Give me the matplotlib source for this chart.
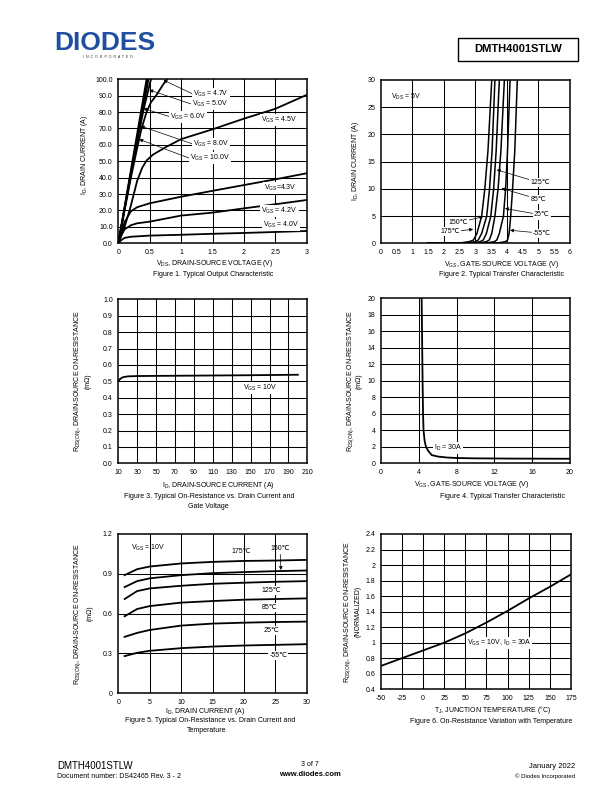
import numpy as np
import matplotlib
matplotlib.use("Agg")
import matplotlib.pyplot as plt
from matplotlib.patches import Rectangle

plt.rcParams['font.family'] = ['Liberation Sans', 'DejaVu Sans']
plt.rcParams['mathtext.fontset'] = 'custom'
plt.rcParams['mathtext.rm'] = 'Liberation Sans'
plt.rcParams['mathtext.it'] = 'Liberation Sans'

W, H = 612, 792

################################
#### data
################################

# fig 1: output characteristic, Vds (V) -> Id (A)
vds_10v = [0, 0.45]; id_10v = [0, 100]
vds_8v = [0, 0.465]; id_8v = [0, 100]
vds_6v = [0, 0.48]; id_6v = [0, 100]
vds_5v = [0, 0.1, 0.2, 0.3, 0.4, 0.5, 0.52]; id_5v = [0, 21, 42, 62, 81, 97, 100]
vds_47v = [0, 0.1, 0.2, 0.3, 0.37, 0.45, 0.52, 0.61, 0.7, 0.77]
id_47v = [0, 20, 40, 58, 70, 80, 86, 90.5, 96, 100]
vds_45v = [0, 0.1, 0.19, 0.3, 0.38, 0.45, 0.55, 0.75, 1, 1.5, 2, 2.5, 3]
id_45v = [0, 10, 21.5, 38, 46, 50.5, 54, 58.5, 63.5, 69.5, 76, 82, 90.5]
vds_43v = [0, 0.05, 0.1, 0.2, 0.3, 0.5, 1, 1.5, 2, 2.5, 3]
id_43v = [0, 6, 13, 19.5, 22, 24.4, 28.4, 32, 35.5, 39, 42.7]
vds_42v = [0, 0.05, 0.1, 0.2, 0.3, 0.5, 1, 1.5, 2, 2.5, 3]
id_42v = [0, 5, 8.5, 11, 12.2, 13.2, 16.9, 18.7, 21.3, 23.8, 26.4]
vds_40v = [0, 0.05, 0.1, 0.2, 0.5, 1, 1.5, 2, 2.5, 3]
id_40v = [0, 2, 3.3, 4.0, 4.7, 5.2, 5.8, 6.3, 6.9, 7.5]

# fig 2: transfer characteristic, Vgs (V) -> Id (A) per temperature
id_tr = [0, 0.05, 0.3, 0.6, 1.8, 5, 10, 17, 30]
vgs_175 = [1.5, 2.5, 2.8, 2.94, 3.05, 3.2, 3.3, 3.4, 3.52]
vgs_150 = [1.5, 2.7, 3.0, 3.09, 3.2, 3.36, 3.45, 3.53, 3.62]
vgs_125 = [1.5, 2.9, 3.15, 3.25, 3.35, 3.49, 3.58, 3.66, 3.76]
vgs_85 = [1.5, 3.1, 3.35, 3.44, 3.52, 3.62, 3.72, 3.81, 3.92]
vgs_25 = [1.5, 3.35, 3.6, 3.68, 3.76, 3.89, 3.96, 4.02, 4.10]
vgs_m55 = [1.5, 3.7, 3.95, 4.02, 4.07, 4.12, 4.18, 4.25, 4.33]

# fig 3: Rds(on) vs Id at Vgs=10V
id_f3 = [10, 12, 15, 20, 30, 50, 100, 150, 200]
rds_f3 = [0.50, 0.515, 0.525, 0.53, 0.532, 0.533, 0.535, 0.537, 0.54]

# fig 4: Rds(on) vs Vgs at Id=30A
vgs_f4 = [4.3, 4.35, 4.4, 4.45, 4.5, 4.62, 4.76, 5.0, 5.36, 6, 7, 8, 10, 14, 20]
rds_f4 = [20, 15, 10, 6, 4, 2.7, 2.0, 1.5, 1.0, 0.82, 0.7, 0.64, 0.6, 0.57, 0.55]

# fig 5: Rds(on) vs Id per temperature
id_f5 = [1, 3, 5, 10, 15, 20, 25, 30]
rds_m55 = [0.28, 0.305, 0.32, 0.34, 0.352, 0.36, 0.365, 0.37]
rds_25 = [0.425, 0.455, 0.477, 0.51, 0.525, 0.532, 0.537, 0.54]
rds_85 = [0.58, 0.635, 0.657, 0.683, 0.695, 0.705, 0.71, 0.715]
rds_125 = [0.71, 0.77, 0.79, 0.81, 0.825, 0.833, 0.84, 0.845]
rds_150 = [0.80, 0.845, 0.866, 0.89, 0.905, 0.913, 0.92, 0.925]
rds_175 = [0.89, 0.935, 0.955, 0.978, 0.99, 0.997, 1.0, 1.005]

# fig 6: normalized Rds(on) vs Tj
tj = [-50, -25, 0, 25, 50, 75, 100, 125, 150, 175]
rds_norm = [0.70, 0.80, 0.90, 1.0, 1.12, 1.26, 1.41, 1.57, 1.72, 1.88]


################################
#### helpers
################################

fig = plt.figure(figsize=(6.12, 7.92), dpi=100)

def px_ax(l, t, r, b):
    return fig.add_axes([l / W, 1 - b / H, (r - l) / W, (b - t) / H])

def ftext(x, y, s, **kw):
    kw.setdefault('fontsize', 5)
    kw.setdefault('ha', 'center')
    kw.setdefault('va', 'center')
    fig.text(x / W, 1 - y / H, s, **kw)

def style(ax, xlim, ylim, xt, yt, xg, yg, xfmt, yfmt):
    ax.set_xlim(xlim); ax.set_ylim(ylim)
    ax.set_xticks(xt); ax.set_yticks(yt)
    ax.set_xticklabels([xfmt(v) for v in xt])
    ax.set_yticklabels([yfmt(v) for v in yt])
    ax.tick_params(which='both', length=0, labelsize=5, pad=4)
    # grid lines (the datasheet grid is not always on the label ticks)
    for v in xg:
        ax.axvline(v, color='k', lw=0.75, zorder=1)
    for v in yg:
        ax.axhline(v, color='k', lw=0.75, zorder=1)
    for s in ax.spines.values():
        s.set_linewidth(1.1)
        s.set_zorder(5)

def g(v):
    return '%g' % v

wbox = dict(boxstyle='square,pad=0.15', fc='white', ec='none')
arr = dict(arrowstyle='-|>', lw=0.5, color='k', mutation_scale=5, shrinkA=0, shrinkB=0)
curve = dict(color='k', lw=1.3, zorder=3)


################################
#### figure 1
################################

ax1 = px_ax(118.3, 79.3, 306.7, 243.3)
for xs, ys in [(vds_10v, id_10v), (vds_8v, id_8v), (vds_6v, id_6v), (vds_5v, id_5v),
               (vds_47v, id_47v), (vds_45v, id_45v), (vds_43v, id_43v),
               (vds_42v, id_42v), (vds_40v, id_40v)]:
    ax1.plot(xs, ys, **curve)
style(ax1, (0, 3), (0, 100), np.arange(0, 3.01, 0.5), np.arange(0, 101, 10),
      np.arange(0.5, 3, 0.5), np.arange(10, 100, 10), g, lambda v: '%.1f' % v)

f1_arrows = [(r'V$_{\mathrm{GS}}$ = 4.7V', (1.19, 91.0), (0.72, 99.5)),
             (r'V$_{\mathrm{GS}}$ = 5.0V', (1.17, 84.8), (0.494, 93.5)),
             (r'V$_{\mathrm{GS}}$ = 6.0V', (0.82, 77.2), (0.398, 82.3)),
             (r'V$_{\mathrm{GS}}$ = 8.0V', (1.19, 60.5), (0.357, 71.5)),
             (r'V$_{\mathrm{GS}}$ = 10.0V', (1.14, 51.8), (0.334, 63.4))]
for s, xyt, xy in f1_arrows:
    ax1.annotate(s, xy=xy, xytext=xyt, fontsize=5, ha='left', va='center', zorder=4,
                 bbox=wbox, arrowprops=dict(arr, relpos=(0, 0.5)))
for s, xy in [(r'V$_{\mathrm{GS}}$ = 4.5V', (2.28, 75.1)),
              (r'V$_{\mathrm{GS}}$=4.3V', (2.32, 33.7)),
              (r'V$_{\mathrm{GS}}$ = 4.2V', (2.28, 19.7)),
              (r'V$_{\mathrm{GS}}$ = 4.0V', (2.30, 11.2))]:
    ax1.text(xy[0], xy[1], s, fontsize=5, ha='left', va='center', bbox=wbox, zorder=4)

ftext(85, 155, r'I$_{\mathrm{D}}$, DRAIN CURRENT (A)', rotation=90)
ftext(215, 264, r'V$_{\mathrm{DS}}$, DRAIN-SOURCE VOLTAGE (V)')
ftext(213.5, 274, 'Figure 1. Typical Output Characteristic')


################################
#### figure 2
################################

ax2 = px_ax(380.7, 80, 570, 243.3)
for vg in [vgs_175, vgs_150, vgs_125, vgs_85, vgs_25, vgs_m55]:
    ax2.plot(vg, id_tr, color='k', lw=1.1, zorder=3)
style(ax2, (0, 6), (0, 30), np.arange(0, 6.01, 0.5), np.arange(0, 31, 5),
      np.arange(1, 6, 1), np.arange(5, 30, 5), g, g)

ax2.text(0.82, 26.9, r'V$_{\mathrm{DS}}$ = 5V', fontsize=5, ha='center', va='center')
f2_arrows = [('125℃', (5.05, 11.1), (3.68, 13.5)),
             ('85℃', (4.99, 8.1), (3.83, 10.1)),
             ('25℃', (5.10, 5.2), (3.94, 6.4)),
             ('-55℃', (5.10, 1.85), (4.10, 2.4)),
             ('150℃', (2.46, 3.8), (3.25, 4.9)),
             ('175℃', (2.20, 2.1), (2.93, 2.57))]
for s, xyt, xy in f2_arrows:
    ax2.annotate(s, xy=xy, xytext=xyt, fontsize=5, ha='center', va='center', zorder=4,
                 bbox=wbox, arrowprops=arr)

ftext(355, 161, r'I$_{\mathrm{D}}$, DRAIN CURRENT (A)', rotation=90)
ftext(501.7, 265, r'V$_{\mathrm{GS}}$, GATE-SOURCE VOLTAGE (V)')
ftext(502, 274, 'Figure 2. Typical Transfer Characteristic')


################################
#### figure 3
################################

ax3 = px_ax(118.3, 299.3, 307.3, 463.3)
ax3.plot(id_f3, rds_f3, **curve)
style(ax3, (10, 210), (0, 1.0), np.arange(10, 211, 20), np.round(np.arange(0, 1.01, 0.1), 1),
      np.arange(30, 210, 20), np.arange(0.1, 1.0, 0.1), g, lambda v: '%.1f' % v)
ax3.text(160, 0.457, r'V$_{\mathrm{GS}}$ = 10V', fontsize=5, ha='center', va='center',
         bbox=wbox, zorder=4)

ftext(78, 381, r'R$_{\mathrm{DS(ON)}}$, DRAIN-SOURCE ON-RESISTANCE', rotation=90)
ftext(88, 381, '(mΩ)', rotation=90)
ftext(218, 485.5, r'I$_{\mathrm{D}}$, DRAIN-SOURCE CURRENT (A)')
ftext(209, 496, 'Figure 3. Typical On-Resistance vs. Drain Current and')
ftext(208.5, 506.5, 'Gate Voltage')


################################
#### figure 4
################################

ax4 = px_ax(381, 298.3, 570, 463.3)
ax4.plot(vgs_f4, rds_f4, **curve)
style(ax4, (0, 20), (0, 20), np.arange(0, 21, 4), np.arange(0, 21, 2),
      np.arange(4, 20, 4), np.arange(2, 20, 2), g, g)
ax4.text(7.1, 1.82, r'I$_{\mathrm{D}}$ = 30A', fontsize=5, ha='center', va='center',
         bbox=wbox, zorder=4)

ftext(351, 381, r'R$_{\mathrm{DS(ON)}}$, DRAIN-SOURCE ON-RESISTANCE', rotation=90)
ftext(359.5, 381, '(mΩ)', rotation=90)
ftext(471.7, 484, r'V$_{\mathrm{GS}}$, GATE-SOURCE VOLTAGE (V)')
ftext(502, 496, 'Figure 4. Typical Transfer Characteristic')


################################
#### figure 5
################################

ax5 = px_ax(118.3, 534, 306.7, 693.3)
for r in [rds_m55, rds_25, rds_85, rds_125, rds_150, rds_175]:
    ax5.plot(id_f5, r, **curve)
style(ax5, (0, 30), (0, 1.2), np.arange(0, 31, 5), np.round(np.arange(0, 1.21, 0.3), 1),
      np.arange(5, 30, 5), np.round(np.arange(0.3, 1.2, 0.3), 1), g, g)

ax5.text(4.78, 1.097, r'V$_{\mathrm{GS}}$ = 10V', fontsize=5, ha='center', va='center')
ax5.text(19.65, 1.067, '175℃', fontsize=5, ha='center', va='center')
ax5.annotate('150℃', xy=(25.9, 0.929), xytext=(25.75, 1.094), fontsize=5, ha='center',
             va='center', arrowprops=arr, zorder=4)
for s, xy in [('125℃', (24.43, 0.773)), ('85℃', (24.16, 0.645)),
              ('25℃', (24.47, 0.475)), ('-55℃', (25.48, 0.288))]:
    ax5.text(xy[0], xy[1], s, fontsize=5, ha='center', va='center', bbox=wbox, zorder=4)

ftext(78, 613.6, r'R$_{\mathrm{DS(ON)}}$, DRAIN-SOURCE ON-RESISTANCE', rotation=90)
ftext(90, 613.6, '(mΩ)', rotation=90)
ftext(205, 711.5, r'I$_{\mathrm{D}}$, DRAIN CURRENT (A)')
ftext(210.5, 720, 'Figure 5. Typical On-Resistance vs. Drain Current and')
ftext(207, 731, 'Temperature')


################################
#### figure 6
################################

ax6 = px_ax(380.7, 534, 571, 689.3)
ax6.plot(tj, rds_norm, **curve)
style(ax6, (-50, 175), (0.4, 2.4), np.arange(-50, 176, 25), np.round(np.arange(0.4, 2.41, 0.2), 1),
      np.arange(-25, 175, 25), np.round(np.arange(0.6, 2.4, 0.2), 1), g, g)
ax6.text(89.9, 0.992, r'V$_{\mathrm{GS}}$ = 10V, I$_{\mathrm{D}}$ = 30A', fontsize=5,
         ha='center', va='center', bbox=wbox, zorder=4)

ftext(348, 611.6, r'R$_{\mathrm{DS(ON)}}$, DRAIN-SOURCE ON-RESISTANCE', rotation=90)
ftext(358, 611.6, '(NORMALIZED)', rotation=90)
ftext(493, 710.5, r'T$_{\mathrm{J}}$, JUNCTION TEMPERATURE (°C)')
ftext(491.5, 721.5, 'Figure 6. On-Resistance Variation with Temperature')


################################
#### page header / footer
################################

ftext(54, 43, 'DIODES', fontsize=19, fontweight='bold', color='#1f4f9e', ha='left')
ftext(108, 57, 'I  N  C  O  R  P  O  R  A  T  E  D', fontsize=2.6, color='#333333')
fig.add_artist(Rectangle((458 / W, 1 - 61 / H), 120 / W, 23 / H, transform=fig.transFigure,
                         fill=False, ec='k', lw=1))
ftext(518, 49.5, 'DMTH4001STLW', fontsize=8, fontweight='bold')

ftext(57, 766, 'DMTH4001STLW', fontsize=7, ha='left')
ftext(57, 776, 'Document number: DS42465 Rev. 3 - 2', fontsize=5, ha='left')
ftext(310, 765, '3 of 7', fontsize=5)
ftext(310, 775, 'www.diodes.com', fontsize=5.5, fontweight='bold')
ftext(575, 766, 'January 2022', fontsize=5.5, ha='right')
ftext(575, 776, '© Diodes Incorporated', fontsize=4.3, ha='right')

fig.savefig('out.png', dpi=100)
